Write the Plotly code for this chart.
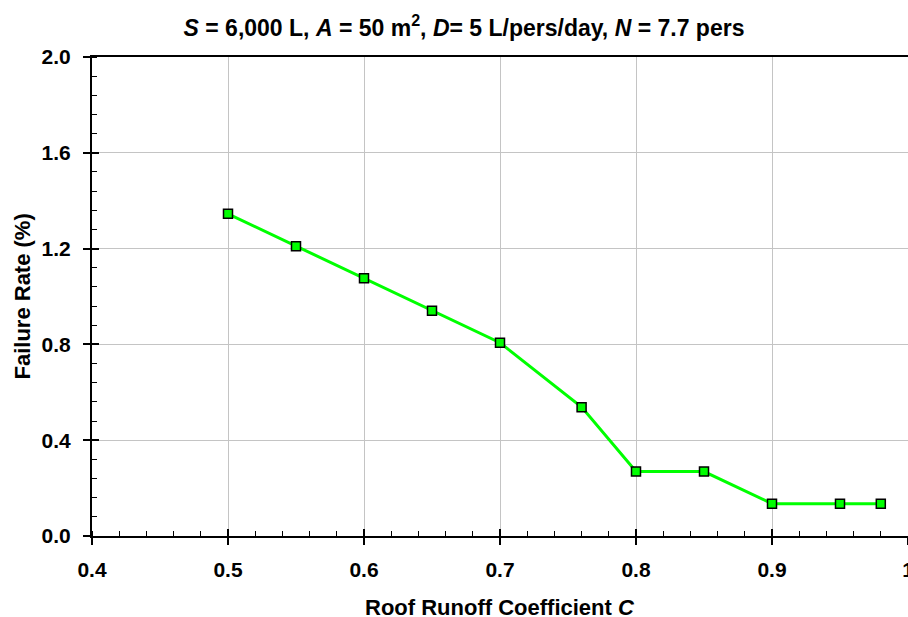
import plotly.graph_objects as go

# Data
runoff_coeff = [0.5, 0.55, 0.6, 0.65, 0.7, 0.76, 0.8, 0.85, 0.9, 0.95, 0.98]
failure_rate = [1.345, 1.210, 1.076, 0.941, 0.807, 0.538, 0.269, 0.269, 0.135, 0.135, 0.135]

x_tick_vals = [0.4, 0.5, 0.6, 0.7, 0.8, 0.9, 1.0]
x_tick_text = ["0.4", "0.5", "0.6", "0.7", "0.8", "0.9", "1"]
y_tick_vals = [0.0, 0.4, 0.8, 1.2, 1.6, 2.0]
y_tick_text = ["0.0", "0.4", "0.8", "1.2", "1.6", "2.0"]

title_text = ("<i>S</i> = 6,000 L, <i>A</i> = 50 m<sup>2</sup>, "
              "<i>D</i>= 5 L/pers/day, <i>N</i> = 7.7 pers")
x_title = "Roof Runoff Coefficient <i>C</i>"
y_title = "Failure Rate (%)"

FONT = "Liberation Sans, Arial, sans-serif"
GREEN = "#00FF00"

fig = go.Figure()
fig.add_trace(go.Scatter(
    x=runoff_coeff, y=failure_rate, mode="lines+markers",
    line=dict(color=GREEN, width=3),
    marker=dict(symbol="square", size=9, color=GREEN,
                line=dict(color="black", width=1.5)),
    showlegend=False, cliponaxis=False,
))
# invisible trace on overlay axes so they render
fig.add_trace(go.Scatter(x=[0.4], y=[0], xaxis="x2", yaxis="y2",
                         mode="markers", marker=dict(opacity=0),
                         showlegend=False, hoverinfo="skip"))

tick_font = dict(family=FONT, size=21, color="black", weight="bold")
label_font = dict(family=FONT, size=22, color="black", weight="bold")

fig.update_layout(
    template="none",
    width=908, height=617,
    margin=dict(l=92, r=0, t=57, b=81, autoexpand=False),
    paper_bgcolor="white", plot_bgcolor="white",
    font=dict(family=FONT, color="black"),
    title=dict(text=title_text, xref="container", yref="container",
               x=464 / 908, y=1 - 28 / 617, xanchor="center", yanchor="middle",
               font=dict(family=FONT, size=23, color="black", weight="bold")),
    xaxis=dict(
        range=[0.4, 1.0], tickvals=x_tick_vals, ticktext=x_tick_text,
        ticks="outside", ticklen=7, tickwidth=1.5, tickcolor="black",
        showline=True, linecolor="black", linewidth=2, mirror=True,
        showgrid=True, gridcolor="#C4C4C4", gridwidth=1, zeroline=False,
        tickfont=tick_font, automargin=False,
        ticklabeloverflow="allow", ticklabelstandoff=7,
        minor=dict(dtick=0.02, tick0=0.4, ticks="inside", ticklen=5,
                   tickwidth=1.2, tickcolor="black", showgrid=False),
    ),
    yaxis=dict(
        range=[0, 2.0], tickvals=y_tick_vals, ticktext=y_tick_text,
        ticks="outside", ticklen=7, tickwidth=1.5, tickcolor="black",
        showline=True, linecolor="black", linewidth=2, mirror=False,
        showgrid=True, gridcolor="#C4C4C4", gridwidth=1, zeroline=False,
        tickfont=tick_font, automargin=False,
        ticklabelstandoff=8,
        minor=dict(dtick=0.08, tick0=0, ticks="inside", ticklen=5,
                   tickwidth=1.2, tickcolor="black", showgrid=False),
    ),
    xaxis2=dict(overlaying="x", matches="x", range=[0.4, 1.0],
                tickvals=x_tick_vals, ticks="inside", ticklen=7, tickwidth=1.5,
                tickcolor="black", showticklabels=False, showgrid=False,
                showline=False, zeroline=False, side="bottom", automargin=False),
    yaxis2=dict(overlaying="y", matches="y", range=[0, 2.0],
                tickvals=y_tick_vals, ticks="inside", ticklen=7, tickwidth=1.5,
                tickcolor="black", showticklabels=False, showgrid=False,
                showline=False, zeroline=False, side="left", automargin=False),
    annotations=[
        dict(text=x_title, xref="paper", yref="paper", x=0.5, y=0,
             xanchor="center", yanchor="middle", yshift=-71, showarrow=False,
             font=label_font),
        dict(text=y_title, xref="paper", yref="paper", x=0, y=0.5,
             xanchor="center", yanchor="middle", xshift=-70, textangle=-90,
             showarrow=False, font=label_font),
    ],
)

fig.write_html("out.html")
